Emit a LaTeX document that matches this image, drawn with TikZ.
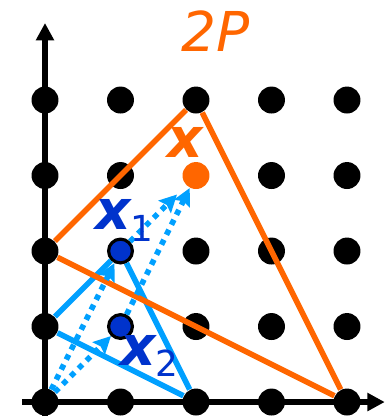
\documentclass[tikz,border=0pt]{standalone}
\usepackage{fontspec}
\setsansfont{DejaVu Sans}
\usetikzlibrary{arrows.meta}
\definecolor{polyorange}{RGB}{255,102,0}
\definecolor{rayblue}{RGB}{0,160,255}
\definecolor{ptblue}{RGB}{0,51,204}
\begin{document}
\begin{tikzpicture}[font=\sffamily\fontsize{20.7}{24}\selectfont,
  axis/.style={line width=2pt,-{Triangle[length=6.5pt,width=6.5pt]}},
  dot/.style={circle,fill=black,inner sep=0pt,minimum size=0.357cm},
  bluedot/.style={circle,fill=ptblue,draw=black,line width=1.2pt,inner sep=0pt,minimum size=0.315cm},
  orangedot/.style={circle,fill=polyorange,inner sep=0pt,minimum size=0.357cm},
  edge2p/.style={polyorange,line width=2.1pt},
  edgep/.style={rayblue,line width=2.1pt},
  ray/.style={rayblue,line width=2.1pt,dash pattern=on 2.1pt off 2.1pt,-{Stealth[length=6.5pt,width=6.5pt,inset=1pt]}}]
\useasboundingbox (-0.596,-0.185) rectangle (4.530,5.325);
\coordinate (xa) at (-0.30,0);
\coordinate (xb) at (4.50,0);
\coordinate (ya) at (0,-0.19);
\coordinate (yb) at (0,5.02);
\draw[axis] (xa) -- (xb);
\draw[axis] (ya) -- (yb);
\node[dot] (p00) at (0,0) {};
\node[dot] (p10) at (1,0) {};
\node[dot] (p20) at (2,0) {};
\node[dot] (p30) at (3,0) {};
\node[dot] (p40) at (4,0) {};
\node[dot] (p01) at (0,1) {};
\node[bluedot] (p11) at (1,1) {};
\node[dot] (p21) at (2,1) {};
\node[dot] (p31) at (3,1) {};
\node[dot] (p41) at (4,1) {};
\node[dot] (p02) at (0,2) {};
\node[bluedot] (p12) at (1,2) {};
\node[dot] (p22) at (2,2) {};
\node[dot] (p32) at (3,2) {};
\node[dot] (p42) at (4,2) {};
\node[dot] (p03) at (0,3) {};
\node[dot] (p13) at (1,3) {};
\node[orangedot] (p23) at (2,3) {};
\node[dot] (p33) at (3,3) {};
\node[dot] (p43) at (4,3) {};
\node[dot] (p04) at (0,4) {};
\node[dot] (p14) at (1,4) {};
\node[dot] (p24) at (2,4) {};
\node[dot] (p34) at (3,4) {};
\node[dot] (p44) at (4,4) {};
\draw[edgep] (p01) -- (p12);
\draw[edgep] (p12) -- (p20);
\draw[edgep] (p20) -- (p01);
\draw[edge2p] (p02) -- (p24);
\draw[edge2p] (p24) -- (p40);
\draw[edge2p] (p40) -- (p02);
\draw[ray] (p00) -- (p12);
\draw[ray] (p00) -- (p11);
\draw[ray,shorten >=0.17cm] (p12) -- (p23);
\draw[ray] (p11) -- (p23);
\node[anchor=base west,inner sep=0pt,text=polyorange] (lab2p) at (1.80,4.64) {\itshape 2P};
\node[anchor=base west,inner sep=0pt,text=polyorange] (labx) at (1.61,3.245) {\bfseries\itshape x};
\node[anchor=base west,inner sep=0pt,text=ptblue] (labx1) at (0.66,2.28) {{\bfseries\itshape x}\raisebox{-4.5pt}{\fontsize{13.5}{13.5}\selectfont 1}};
\node[anchor=base west,inner sep=0pt,text=ptblue] (labx2) at (0.99,0.49) {{\bfseries\itshape x}\raisebox{-4.5pt}{\fontsize{13.5}{13.5}\selectfont 2}};
\end{tikzpicture}
\end{document}
